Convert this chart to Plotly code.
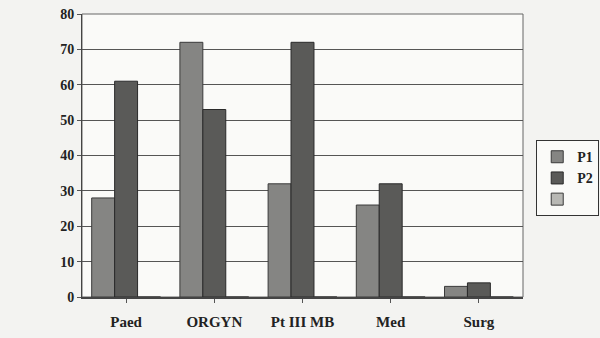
import plotly.graph_objects as go

categories = ["Paed", "ORGYN", "Pt III MB", "Med", "Surg"]
p1 = [28, 72, 32, 26, 3]
p2 = [61, 53, 72, 32, 4]
p3 = [0, 0, 0, 0, 0]
y_ticks = [0, 10, 20, 30, 40, 50, 60, 70, 80]

font = dict(family="Liberation Serif, Times New Roman, serif", size=14, color="#222222")

fig = go.Figure()
fig.add_trace(go.Bar(x=categories, y=p1, name="P1",
                     marker=dict(color="#858583", line=dict(color="#3a3a3a", width=1))))
fig.add_trace(go.Bar(x=categories, y=p2, name="P2",
                     marker=dict(color="#5a5a58", line=dict(color="#2a2a2a", width=1))))
fig.add_trace(go.Bar(x=categories, y=p3, name=" ",
                     marker=dict(color="#b8b8b4", line=dict(color="#3a3a3a", width=1))))

fig.update_layout(
    width=600, height=338,
    margin=dict(l=82, r=77, t=14, b=41, autoexpand=False),
    paper_bgcolor="#f3f3f1",
    plot_bgcolor="#fafaf8",
    barmode="group",
    bargap=0.22,
    bargroupgap=0.0,
    font=font,
    showlegend=True,
    legend=dict(x=1.03, y=0.42, xanchor="left", yanchor="middle",
                bordercolor="#333333", borderwidth=1, bgcolor="#fafaf8",
                font=dict(family="Liberation Serif, serif", size=14, color="#222222", weight="bold"),
                itemwidth=30, tracegroupgap=2),
    xaxis=dict(showgrid=False, showline=True, linecolor="#444444", linewidth=2,
               ticks="outside", ticklen=4, tickcolor="#555555", ticklabelstandoff=6,
               tickfont=dict(family="Liberation Serif, serif", size=15, color="#222222", weight="bold"),
               mirror=False),
    yaxis=dict(range=[0, 80], tickvals=y_ticks, showgrid=True, gridcolor="#555555", gridwidth=1,
               showline=True, linecolor="#444444", linewidth=1, ticks="outside", ticklen=4,
               tickcolor="#555555", zeroline=False,
               tickfont=dict(family="Liberation Serif, serif", size=14, color="#222222", weight="bold")),
)
fig.add_shape(type="rect", xref="paper", yref="paper", x0=0, x1=1, y0=0, y1=1,
              line=dict(color="#666666", width=1), layer="below")

fig.write_html("out.html", config={"displayModeBar": False},
               post_script="document.body.style.margin='0';document.body.style.background='#f3f3f1';")
